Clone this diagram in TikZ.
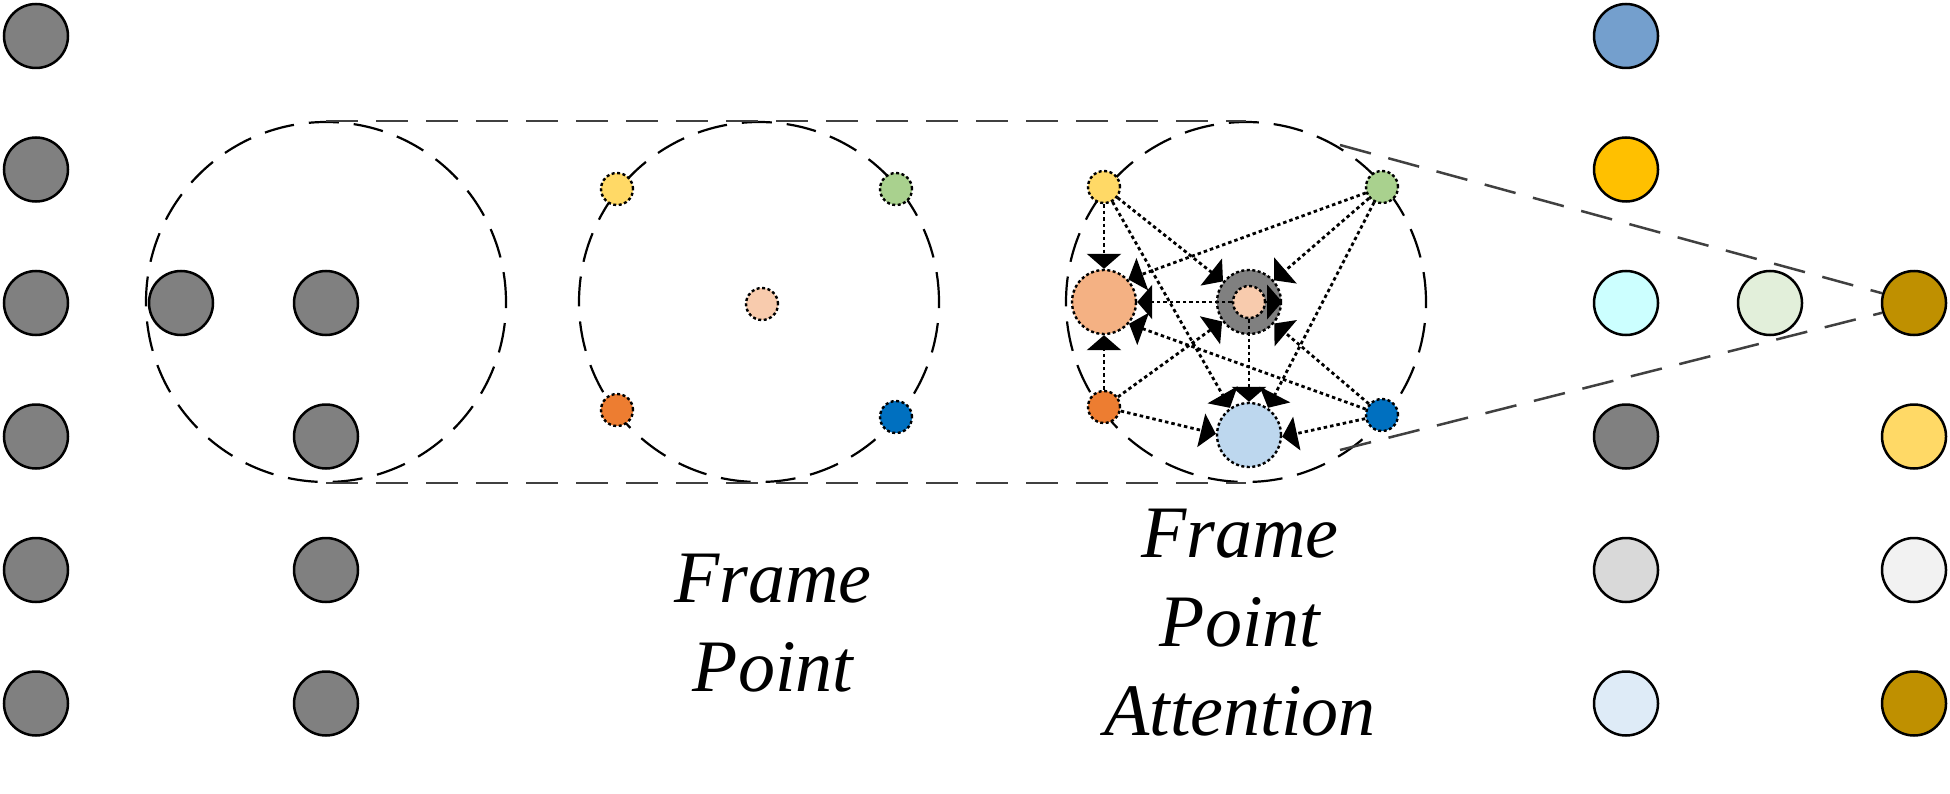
\documentclass[tikz,border=0pt]{standalone}
\usepackage{fontspec}
\setmainfont{Liberation Serif}
\usetikzlibrary{arrows.meta}
\definecolor{ngray}{HTML}{808080}
\definecolor{steel}{HTML}{749FCD}
\definecolor{amber}{HTML}{FFC000}
\definecolor{cyanl}{HTML}{CCFFFF}
\definecolor{grayl}{HTML}{D9D9D9}
\definecolor{bluel}{HTML}{DEEBF7}
\definecolor{goldd}{HTML}{BF9000}
\definecolor{ylw}{HTML}{FFD966}
\definecolor{grayvl}{HTML}{F2F2F2}
\definecolor{greenl}{HTML}{E2EFDA}
\definecolor{sgreen}{HTML}{A9D18E}
\definecolor{sorange}{HTML}{ED7D31}
\definecolor{sblue}{HTML}{0070C0}
\definecolor{peach}{HTML}{F8CBAD}
\definecolor{salmon}{HTML}{F4B183}
\definecolor{lblue}{HTML}{BDD7EE}
\definecolor{guidec}{HTML}{404040}
\tikzset{
  bignode/.style={circle, draw=black, line width=2.5pt, minimum size=64pt, inner sep=0pt},
  pnode/.style={circle, draw=black, line width=2.4pt, dash pattern=on 3pt off 2.5pt, minimum size=32pt, inner sep=0pt},
  qnode/.style={pnode, minimum size=64pt},
  framec/.style={circle, draw=black, line width=2.2pt, dash pattern=on 30pt off 15pt, minimum size=360pt, inner sep=0pt},
  guide/.style={draw=guidec, line width=2.5pt, dash pattern=on 32pt off 18pt},
  attn/.style={draw=black, line width=2.8pt, dash pattern=on 3.5pt off 3pt,
    -{Triangle[length=15pt,width=34pt]}},
  lbl/.style={align=center, inner sep=0pt, font=\fontsize{74}{89}\selectfont\itshape},
}
\begin{document}
\begin{tikzpicture}[x=1pt,y=-1pt]
\useasboundingbox (0,0) rectangle (1950,794);
% frames
\node[framec] (f1) at (326,302) {};
\node[framec] (f2) at (759,302) {};
\node[framec] (f3) at (1246,302) {};
% guide lines
\draw[guide] (f1.north) -- (f3.north);
\draw[guide] (f1.south) -- (f3.south);
% left grey nodes
\foreach \r/\y in {1/36,2/169.5,3/303,4/436.5,5/570,6/703.5}{
  \node[bignode, fill=ngray] (a\r) at (36,\y) {};
}
\node[bignode, fill=ngray] (b3) at (181,303) {};
\foreach \r/\y in {3/303,4/436.5,5/570,6/703.5}{
  \node[bignode, fill=ngray] (c\r) at (326,\y) {};
}
% right nodes
\node[bignode, fill=steel] (r1) at (1626,36) {};
\node[bignode, fill=amber] (r2) at (1626,169.5) {};
\node[bignode, fill=cyanl] (r3) at (1626,303) {};
\node[bignode, fill=ngray] (r4) at (1626,436.5) {};
\node[bignode, fill=grayl] (r5) at (1626,570) {};
\node[bignode, fill=bluel] (r6) at (1626,703.5) {};
\node[bignode, fill=greenl] (m3) at (1770,303) {};
\node[bignode, fill=goldd] (g3) at (1914,303) {};
\node[bignode, fill=ylw] (g4) at (1914,436.5) {};
\node[bignode, fill=grayvl] (g5) at (1914,570) {};
\node[bignode, fill=goldd] (g6) at (1914,703.5) {};
% diagonal guides
\coordinate (tt) at (1340,145);
\coordinate (tb) at (1340,450);
\draw[guide] (tt) -- (g3.163);
\draw[guide] (tb) -- (g3.197);
% frame point
\node[pnode, fill=ylw] (py) at (617,189) {};
\node[pnode, fill=sgreen] (pg) at (896,189) {};
\node[pnode, fill=sorange] (po) at (617,410) {};
\node[pnode, fill=sblue] (pb) at (896,417) {};
\node[pnode, fill=peach] (pc) at (762,304) {};
% frame point attention
\node[pnode, fill=ylw] (qy) at (1104,187) {};
\node[pnode, fill=sgreen] (qg) at (1382,187) {};
\node[pnode, fill=sorange] (qo) at (1104,407) {};
\node[pnode, fill=sblue] (qb) at (1382,415) {};
\node[qnode, fill=salmon] (qs) at (1104,302) {};
\node[qnode, fill=ngray] (qr) at (1249,302) {};
\node[pnode, fill=peach] (qi) at (1249,302) {};
\node[qnode, fill=lblue] (ql) at (1249,435) {};
% to salmon
\draw[attn] (qy) -- (qs.north);
\draw[attn] (qg) -- (qs.43);
\draw[attn] (qi) -- (qs.east);
\draw[attn] (qb) -- (qs.-41);
\draw[attn] (qo) -- (qs.south);
% to grey ring
\draw[attn] (qy) -- (qr);
\draw[attn] (qg) -- (qr);
\draw[attn] (qo) -- (qr);
\draw[attn] (qb) -- (qr);
\draw[attn] (qi.east) -- (qr.east);
% to light blue
\draw[attn] (qy) -- (ql.125);
\draw[attn] (qi) -- (ql.north);
\draw[attn] (qg) -- (ql.55);
\draw[attn] (qo) -- (ql.178);
\draw[attn] (qb) -- (ql.-3);
% labels
\node[lbl, anchor=north] (t1) at (773,554) {Frame\\Point};
\node[lbl, anchor=north] (t2) at (1240,509) {Frame\\Point\\Attention};
\end{tikzpicture}
\end{document}
